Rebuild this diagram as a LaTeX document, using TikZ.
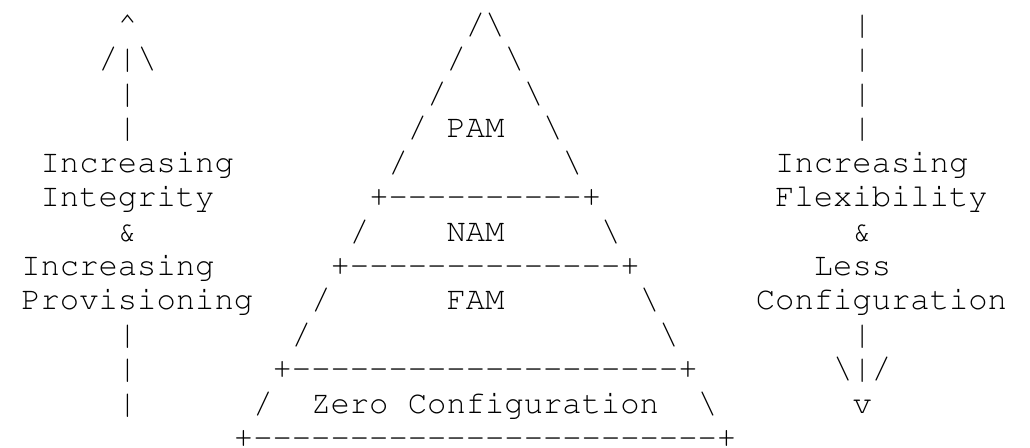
\documentclass[tikz,border=0pt]{standalone}
\usepackage[T1,TU]{fontenc}
\tikzset{
  ascii/.style={inner sep=0pt, outer sep=0pt, anchor=base west,
    font=\fontencoding{T1}\fontfamily{pcr}\fontsize{16.1pt}{18pt}\selectfont,
    text=black}
}
\newcommand\bs{\textbackslash}
% a run of hyphens, kept apart so that no dash ligature forms
\newcommand\dashrun[1]{\foreach\i in {1,...,#1}{-{}}}
\begin{document}
\begin{tikzpicture}
\useasboundingbox (0,0) rectangle (515pt,-223.5pt);
% character grid: one x unit per column, one y unit per text row
\begin{scope}[shift={(10.665pt,-17.25pt)}, x=9.665pt, y=-17.21pt]
  % left arrow: increasing integrity and provisioning
  \node[ascii] (lhead)  at (5,0)  {\textasciicircum};
  \node[ascii] (lbarb)  at (4,1)  {/|\bs};
  \node[ascii] (lbar1)  at (5,2)  {|};
  \node[ascii] (lbar2)  at (5,3)  {|};
  \node[ascii] (lt1)    at (1,4)  {Increasing};
  \node[ascii] (lt2)    at (1,5)  {Integrity};
  \node[ascii] (lt3)    at (5,6)  {\&};
  \node[ascii] (lt4)    at (0,7)  {Increasing};
  \node[ascii] (lt5)    at (0,8)  {Provisioning};
  \node[ascii] (lbar3)  at (5,9)  {|};
  \node[ascii] (lbar4)  at (5,10) {|};
  \node[ascii] (lbar5)  at (5,11) {|};

  % pyramid of trust models
  \node[ascii] (apex)   at (23,0) {/\bs};
  \node[ascii] (pl1)    at (22,1) {/};
  \node[ascii] (pr1)    at (25,1) {\bs};
  \node[ascii] (pl2)    at (21,2) {/};
  \node[ascii] (pr2)    at (26,2) {\bs};
  \node[ascii] (pl3)    at (20,3) {/};
  \node[ascii] (pam)    at (22,3) {PAM};
  \node[ascii] (pr3)    at (27,3) {\bs};
  \node[ascii] (pl4)    at (19,4) {/};
  \node[ascii] (pr4)    at (28,4) {\bs};
  \node[ascii] (sep1)   at (18,5) {+\dashrun{10}+};
  \node[ascii] (pl5)    at (17,6) {/};
  \node[ascii] (nam)    at (22,6) {NAM};
  \node[ascii] (pr5)    at (30,6) {\bs};
  \node[ascii] (sep2)   at (16,7) {+\dashrun{14}+};
  \node[ascii] (pl6)    at (15,8) {/};
  \node[ascii] (fam)    at (22,8) {FAM};
  \node[ascii] (pr6)    at (32,8) {\bs};
  \node[ascii] (pl7)    at (14,9) {/};
  \node[ascii] (pr7)    at (33,9) {\bs};
  \node[ascii] (sep3)   at (13,10) {+\dashrun{20}+};
  \node[ascii] (pl8)    at (12,11) {/};
  \node[ascii] (zero)   at (15,11) {Zero Configuration};
  \node[ascii] (pr8)    at (35,11) {\bs};
  \node[ascii] (base)   at (11,12) {+\dashrun{24}+};

  % right arrow: increasing flexibility, less configuration
  \node[ascii] (rbar1)  at (43,0) {|};
  \node[ascii] (rbar2)  at (43,1) {|};
  \node[ascii] (rbar3)  at (43,2) {|};
  \node[ascii] (rbar4)  at (43,3) {|};
  \node[ascii] (rt1)    at (39,4) {Increasing};
  \node[ascii] (rt2)    at (39,5) {Flexibility};
  \node[ascii] (rt3)    at (43,6) {\&};
  \node[ascii] (rt4)    at (41,7) {Less};
  \node[ascii] (rt5)    at (38,8) {Configuration};
  \node[ascii] (rbar5)  at (43,9) {|};
  \node[ascii] (rbarb)  at (42,10) {\bs|/};
  \node[ascii] (rhead)  at (43,11) {v};
\end{scope}
\end{tikzpicture}
\end{document}
